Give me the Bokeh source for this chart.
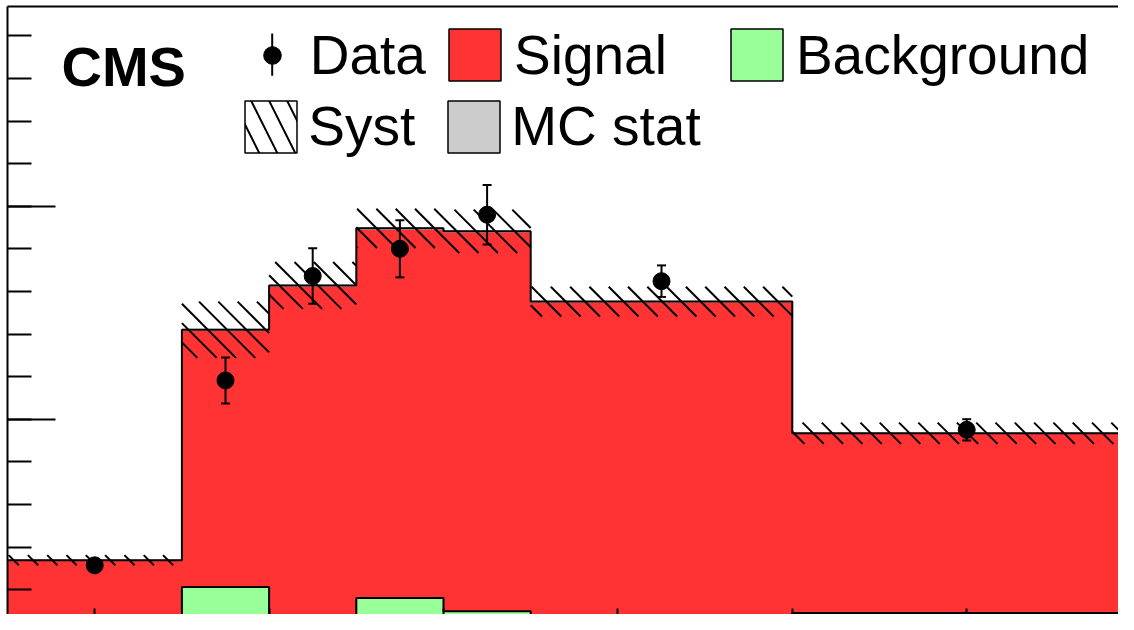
import numpy as np
from bokeh.plotting import figure
from bokeh.models import (ColumnDataSource, Legend, LegendItem, LinearAxis,
                          FixedTicker, Range1d, Whisker, TeeHead, Label, BoxAnnotation)
from bokeh.embed import file_html
from bokeh.resources import INLINE

# ---------------- data ----------------
edges = [-20, 20, 40, 60, 80, 100, 160, 240]
signal = [154, 604, 793, 868, 892, 746, 422]
background = [15, 106, 21, 80, 49, 30, 45]
syst = [12, 66, 55, 46, 51, 35, 25]
mc_stat = [2, 3, 3, 3, 3, 2, 2]
data = [157, 591, 836, 900, 980, 824, 475]
data_err = [12, 54, 65, 67, 70, 37, 25]

# ---------------- layout constants ----------------
W, H = 1118, 614
FL, FT, FR, FB = 7, 6, 1118, 614           # frame edges in figure pixels
RX0, RXS = 7.0, 4.36                       # px position of x=-20, px per x-unit
RY0, RYS = 631.7, 213.0 / 500.0            # px position of y=0, px per y-unit
HATCH_STEP, HATCH_PHASE = 19.3, 1.0        # 45-degree hatch spacing (px)
LEG_DY = 2                                 # legend lift (px)

RED, GREEN, GRAY = "#ff3333", "#99ff99", "#cccccc"
FONT = "Liberation Sans"

left = edges[:-1]
right = edges[1:]
total = [s + b for s, b in zip(signal, background)]
up = [t + e for t, e in zip(total, syst)]
lo = [t - e for t, e in zip(total, syst)]
src = ColumnDataSource(dict(
    left=left, right=right,
    bkg=background, tot=total, up=up, lo=lo,
    mcu=[t + e for t, e in zip(total, mc_stat)],
    mcl=[t - e for t, e in zip(total, mc_stat)],
))
centers = [(a + b) / 2 for a, b in zip(left, right)]
dsrc = ColumnDataSource(dict(
    x=centers, y=data,
    hi=[d + e for d, e in zip(data, data_err)],
    lo=[d - e for d, e in zip(data, data_err)],
))

# "\" hatch of the systematic band: 45-degree strokes clipped to each bin's band
hx0, hy0, hx1, hy1 = [], [], [], []
for a, b, t, l in zip(left, right, up, lo):
    u0, u1 = (a + 20) * RXS, (b + 20) * RXS
    v0, v1 = -t * RYS, -l * RYS
    k0 = int(np.ceil((u0 - v1 - HATCH_PHASE) / HATCH_STEP))
    k1 = int(np.floor((u1 - v0 - HATCH_PHASE) / HATCH_STEP))
    for k in range(k0, k1 + 1):
        c = k * HATCH_STEP + HATCH_PHASE
        ua, ub = max(u0, c + v0), min(u1, c + v1)
        if ub - ua > 0.5:
            hx0.append(ua / RXS - 20); hy0.append(-(ua - c) / RYS)
            hx1.append(ub / RXS - 20); hy1.append(-(ub - c) / RYS)
hsrc = ColumnDataSource(dict(x0=hx0, y0=hy0, x1=hx1, y1=hy1))

x_range = Range1d(-20 + (FL - RX0) / RXS, -20 + (FR - RX0) / RXS)
y_range = Range1d((RY0 - FB) / RYS, (RY0 - FT) / RYS)

p = figure(width=W, height=H, x_range=x_range, y_range=y_range,
           x_axis_location=None, y_axis_location=None,
           output_backend="svg", toolbar_location=None,
           min_border_left=FL, min_border_top=FT, min_border_right=0, min_border_bottom=0)
p.outline_line_color = None
p.grid.visible = False
p.background_fill_color = "white"


def tick_axis(ticks, length, line=False):
    ax = LinearAxis(ticker=FixedTicker(ticks=[], minor_ticks=ticks),
                    minor_tick_in=int(round(length)), minor_tick_out=0,
                    major_tick_in=0, major_tick_out=0,
                    minor_tick_line_width=2, minor_tick_line_color="black",
                    major_label_standoff=0, axis_label=None)
    if line:
        ax.axis_line_width = 2
        ax.axis_line_color = "black"
    else:
        ax.axis_line_color = None
    return ax


y_minor = [float(v) for v in np.arange(0, 1500, 100)]
y_major = [0.0, 500.0, 1000.0]
x_major = [float(v) for v in np.arange(0, 250, 40)]

p.add_layout(tick_axis(y_minor, 24, line=True), "left")
p.add_layout(tick_axis(y_major, 48), "left")
p.add_layout(tick_axis(x_major, 24 - (RY0 - FB)), "below")
p.add_layout(tick_axis([], 0, line=True), "above")

# histograms (stacked)
p.varea_step(x=edges, y1=0, y2=total + [total[-1]], step_mode="after", fill_color=RED)
p.varea_step(x=edges, y1=0, y2=background + [background[-1]], step_mode="after",
             fill_color=GREEN)
p.quad(left="left", right="right", bottom="mcl", top="mcu", source=src,
       fill_color=GRAY, line_color=None)
p.step(x=edges, y=total + [total[-1]], mode="after", line_width=2, line_color="black")
p.step(x=edges, y=background + [background[-1]], mode="after", line_width=2,
       line_color="black")
p.segment(x0="x0", y0="y0", x1="x1", y1="y1", source=hsrc, line_color="black",
          line_width=2)

# data
data_r = p.scatter(x="x", y="y", source=dsrc, size=17, color="black")
wh = Whisker(source=dsrc, base="x", upper="hi", lower="lo", dimension="height",
             line_width=2, line_color="black", level="annotation",
             upper_head=TeeHead(size=9, line_width=2, line_color="black"),
             lower_head=TeeHead(size=9, line_width=2, line_color="black"))
p.add_layout(wh)

# legend proxies (hidden renderers that only give the legend its look)
sig_leg = p.quad(left="left", right="right", bottom="bkg", top="tot", source=src,
                 fill_color=RED, line_color="black", line_width=1.5, visible=False)
bkg_leg = p.quad(left="left", right="right", bottom=0, top="bkg", source=src,
                 fill_color=GREEN, line_color="black", line_width=1.5, visible=False)
syst_leg = p.quad(left="left", right="right", bottom="lo", top="up", source=src,
                  fill_color=None, line_color="black", line_width=1.5, visible=False,
                  hatch_pattern="\\", hatch_color="black", hatch_scale=36, hatch_weight=2)
mc_leg = p.quad(left="left", right="right", bottom="mcl", top="mcu", source=src,
                fill_color=GRAY, line_color="black", line_width=1.5, visible=False)

common = dict(padding=0, margin=0, border_line_color=None, background_fill_alpha=0,
              label_text_font=FONT, label_text_font_size="55px", label_text_color="black",
              inactive_fill_alpha=0, label_height=65, orientation="horizontal")

# vertical error bar of the "Data" legend symbol
p.add_layout(BoxAnnotation(left=270.7 - FL, right=272.7 - FL,
                           top=FB - 35 + LEG_DY, bottom=FB - 77.3 + LEG_DY,
                           left_units="screen", right_units="screen",
                           top_units="screen", bottom_units="screen",
                           fill_color="black", fill_alpha=1.0, line_color=None))

leg0 = Legend(items=[LegendItem(label="Data", renderers=[data_r])],
              glyph_width=44, glyph_height=44, label_standoff=16,
              location=(249.7 - FL, FB - 89.2 + LEG_DY), **common)
leg1 = Legend(items=[LegendItem(label="Signal", renderers=[sig_leg]),
                     LegendItem(label="Background", renderers=[bkg_leg])],
              spacing=57, glyph_width=65, glyph_height=65, label_standoff=7,
              location=(442 - FL, FB - 89 + LEG_DY), **common)
leg2 = Legend(items=[LegendItem(label="Syst", renderers=[syst_leg]),
                     LegendItem(label="MC stat", renderers=[mc_leg])],
              spacing=26, glyph_width=65, glyph_height=65, label_standoff=5,
              location=(238.3 - FL, FB - 160.5 + LEG_DY), **common)
for lg in (leg0, leg1, leg2):
    p.add_layout(lg, "center")

cms = Label(x=61 - FL, y=FB - 66, x_units="screen", y_units="screen", text="CMS",
            text_font=FONT, text_font_style="bold", text_font_size="56px",
            text_baseline="middle", text_color="black")
p.add_layout(cms)

open("out.html", "w").write(file_html(p, INLINE))
